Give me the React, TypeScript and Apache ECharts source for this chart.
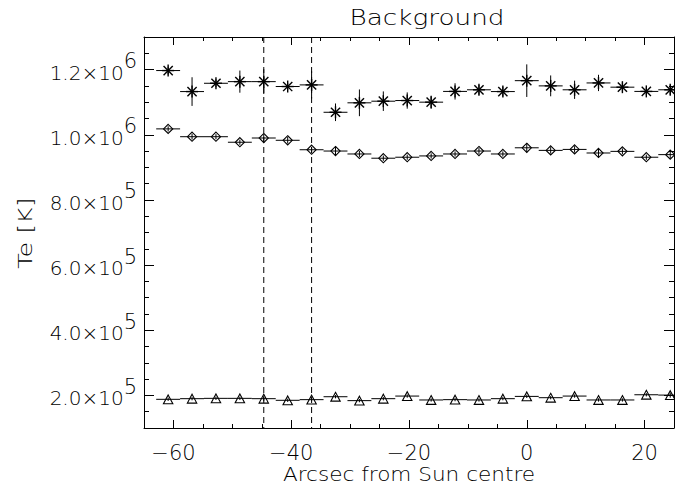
import React, { useEffect, useRef } from "react";
import * as echarts from "echarts";

// Positions of the bins (arcsec from Sun centre)
const xArcsec = [
  -60.9, -56.84, -52.78, -48.72, -44.66, -40.6, -36.54, -32.48, -28.42, -24.36, -20.3,
  -16.24, -12.18, -8.12, -4.06, 0, 4.06, 8.12, 12.18, 16.24, 20.3, 24.36,
];
const binHalfWidth = 2.03;

// Asterisk series (Te [K]) and its errors
const teAsterisk = [
  1197000, 1132500, 1158000, 1163000, 1163000, 1148000, 1153000, 1069000, 1098000, 1103000, 1105000,
  1100000, 1133000, 1138000, 1132500, 1166000, 1150000, 1138000, 1159000, 1146000, 1133000, 1138000,
];
const errAsterisk = [
  12000, 44000, 12000, 34000, 38000, 10000, 42000, 27000, 41000, 30000, 25000,
  20000, 25000, 15000, 15000, 50000, 32000, 28000, 25000, 15000, 12000, 15000,
];

// Diamond series
const teDiamond = [
  1018000, 994000, 994000, 977000, 990000, 983000, 954000, 950000, 941000, 928000, 931000,
  935000, 941000, 950000, 941000, 960000, 952000, 955000, 944000, 949000, 931000, 939000,
];
const errDiamond = [
  8000, 9000, 8000, 8000, 12000, 10000, 9000, 14000, 9000, 8000, 8000,
  8000, 8000, 9000, 8000, 14000, 10000, 10000, 15000, 9000, 8000, 12000,
];

// Triangle series
const teTriangle = [
  188000, 190000, 191000, 191000, 190000, 185000, 187000, 196000, 184000, 190000, 198000,
  186000, 187000, 186000, 190000, 197000, 193000, 198000, 186000, 186000, 202000, 201000,
];
const errTriangle = [
  5000, 5000, 5000, 5000, 8000, 5000, 5000, 5000, 5000, 5000, 5000,
  5000, 5000, 5000, 5000, 5000, 5000, 5000, 5000, 5000, 5000, 8000,
];

const dashedLinesX = [-44.66, -36.54];

const xMin = -65;
const xMax = 25;
const yMin = 100000;
const yMax = 1300000;
const xMajorTicks = [-60, -40, -20, 0, 20];
const yMajorTicks = [200000, 400000, 600000, 800000, 1000000, 1200000];

const titleText = "Background";
const xTitle = "Arcsec from Sun centre";
const yTitle = "Te [K]";

const FONT = "DejaVu Sans";
const TXT = "#000";

type Marker = "asterisk" | "diamond" | "triangle";

function markerShapes(kind: Marker, cx: number, cy: number) {
  const st = { stroke: "#000", lineWidth: 1.1, fill: "none" };
  if (kind === "asterisk") {
    const s = 6;
    const d = 4.6;
    const segs = [
      [-s, 0, s, 0],
      [0, -s, 0, s],
      [-d, -d, d, d],
      [-d, d, d, -d],
    ];
    return segs.map((g) => ({
      type: "line",
      shape: { x1: cx + g[0], y1: cy + g[1], x2: cx + g[2], y2: cy + g[3] },
      style: { stroke: "#000", lineWidth: 1.4 },
    }));
  }
  if (kind === "diamond") {
    const r = 4.6;
    return [
      {
        type: "polygon",
        shape: { points: [[cx, cy - r], [cx + r, cy], [cx, cy + r], [cx - r, cy]] },
        style: st,
      },
    ];
  }
  const w = 4.7;
  const h = 4.4;
  return [
    {
      type: "polygon",
      shape: { points: [[cx, cy - h], [cx + w, cy + h], [cx - w, cy + h]] },
      style: st,
    },
  ];
}

function errorSeries(name: string, ys: number[], errs: number[], kind: Marker) {
  return {
    type: "custom",
    name,
    xAxisIndex: 0,
    yAxisIndex: 0,
    clip: true,
    data: xArcsec.map((x, i) => [x, ys[i], errs[i]]),
    renderItem: (_params: any, api: any) => {
      const x = api.value(0);
      const y = api.value(1);
      const e = api.value(2);
      const c = api.coord([x, y]);
      const l = api.coord([x - binHalfWidth, y]);
      const r = api.coord([x + binHalfWidth, y]);
      const t = api.coord([x, y + e]);
      const b = api.coord([x, y - e]);
      const st = { stroke: "#000", lineWidth: 1 };
      const children: any[] = [
        { type: "line", shape: { x1: l[0], y1: c[1], x2: r[0], y2: c[1] }, style: st },
        { type: "line", shape: { x1: c[0], y1: t[1], x2: c[0], y2: b[1] }, style: st },
        ...markerShapes(kind, c[0], c[1]),
      ];
      return { type: "group", children };
    },
  };
}

const dashedSeries = {
  type: "custom",
  name: "limits",
  xAxisIndex: 0,
  yAxisIndex: 0,
  data: dashedLinesX.map((x) => [x]),
  renderItem: (_params: any, api: any) => {
    const x = api.value(0);
    const top = api.coord([x, yMax]);
    const bot = api.coord([x, yMin]);
    return {
      type: "line",
      shape: { x1: top[0], y1: top[1], x2: bot[0], y2: bot[1] },
      style: { stroke: "#000", lineWidth: 1, lineDash: [6, 4] },
    };
  },
};

const lineStyle = { color: "#000", width: 1 };

function xAxisDef(position: "bottom" | "top", major: boolean) {
  const base: any = {
    type: "value",
    position,
    min: xMin,
    max: xMax,
    splitLine: { show: false },
    axisLine: { show: major, onZero: false, lineStyle },
  };
  if (major) {
    base.axisTick = { show: true, inside: true, length: 8, lineStyle, customValues: xMajorTicks };
    base.axisLabel =
      position === "bottom"
        ? {
            show: true,
            customValues: xMajorTicks,
            margin: 14,
            fontFamily: FONT,
            fontSize: 21,
            fontWeight: 200,
            color: TXT,
            formatter: (v: number) => (v < 0 ? "\u2212" + Math.abs(v) : String(v)),
          }
        : { show: false };
  } else {
    base.interval = 5;
    base.axisTick = { show: true, inside: true, length: 4, lineStyle };
    base.axisLabel = { show: false };
  }
  return base;
}

function yAxisDef(position: "left" | "right", major: boolean) {
  const base: any = {
    type: "value",
    position,
    min: yMin,
    max: yMax,
    splitLine: { show: false },
    axisLine: { show: major, onZero: false, lineStyle },
  };
  if (major) {
    base.axisTick = { show: true, inside: true, length: 10, lineStyle, customValues: yMajorTicks };
    base.axisLabel =
      position === "left"
        ? {
            show: true,
            customValues: yMajorTicks,
            margin: 7,
            formatter: (v: number) => {
              const exp = Math.floor(Math.log10(v) + 1e-9);
              const mant = (v / Math.pow(10, exp)).toFixed(1);
              return `{m|${mant}\u00d710}{e|${exp}}`;
            },
            rich: {
              m: {
                fontFamily: FONT,
                fontSize: 20,
                fontWeight: 200,
                color: TXT,
                verticalAlign: "bottom",
                padding: [12, 0, 6, 0],
              },
              e: {
                fontFamily: FONT,
                fontSize: 21,
                fontWeight: 200,
                color: TXT,
                verticalAlign: "top",
              },
            },
          }
        : { show: false };
  } else {
    base.interval = 50000;
    base.axisTick = { show: true, inside: true, length: 5, lineStyle };
    base.axisLabel = { show: false };
  }
  return base;
}

export default function App() {
  const ref = useRef<HTMLDivElement>(null);
  useEffect(() => {
    if (!ref.current) return;
    const chart = echarts.init(ref.current, undefined, { renderer: "svg" });
    chart.setOption({
      animation: false,
      backgroundColor: "#fff",
      grid: { left: 144, top: 37, width: 530, height: 391, containLabel: false },
      xAxis: [
        xAxisDef("bottom", true),
        xAxisDef("bottom", false),
        xAxisDef("top", true),
        xAxisDef("top", false),
      ],
      yAxis: [
        yAxisDef("left", true),
        yAxisDef("left", false),
        yAxisDef("right", true),
        yAxisDef("right", false),
      ],
      graphic: [
        {
          type: "text",
          x: 427,
          y: 17.5,
          scaleX: 1.25,
          style: {
            text: titleText,
            fontFamily: FONT,
            fontSize: 21,
            fontWeight: 200,
            fill: TXT,
            align: "center",
            verticalAlign: "middle",
          },
        },
        {
          type: "text",
          x: 409,
          y: 474,
          scaleX: 1.08,
          style: {
            text: xTitle,
            fontFamily: FONT,
            fontSize: 20,
            fontWeight: 200,
            fill: TXT,
            align: "center",
            verticalAlign: "middle",
          },
        },
        {
          type: "text",
          x: 25,
          y: 233,
          rotation: Math.PI / 2,
          scaleX: 1.27,
          style: {
            text: yTitle,
            fontFamily: FONT,
            fontSize: 20,
            fontWeight: 200,
            fill: TXT,
            align: "center",
            verticalAlign: "middle",
          },
        },
      ],
      series: [
        dashedSeries,
        errorSeries("asterisk", teAsterisk, errAsterisk, "asterisk"),
        errorSeries("diamond", teDiamond, errDiamond, "diamond"),
        errorSeries("triangle", teTriangle, errTriangle, "triangle"),
      ],
    });
    return () => chart.dispose();
  }, []);
  return (
    <div
      ref={ref}
      style={{ position: "fixed", left: 0, top: 0, width: 680, height: 488, background: "#fff" }}
    />
  );
}
